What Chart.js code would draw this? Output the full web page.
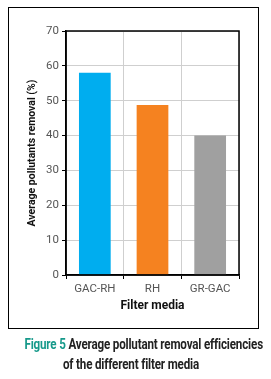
<!DOCTYPE html>
<html>
<head>
<meta charset="utf-8">
<script src="https://cdn.jsdelivr.net/npm/chart.js@4.4.1/dist/chart.umd.min.js"></script>
<style>
  html, body { margin: 0; padding: 0; background: #fff; }
  body { width: 271px; height: 379px; position: relative; overflow: hidden; }
  #frame {
    position: absolute; left: 8px; top: 7px;
    width: 249px; height: 320px;
    border: 1.5px solid #000;
  }
  #grafico { position: absolute; left: 0; top: 0; }
  #legenda {
    position: absolute; left: 0; top: 334px; width: 262px;
    text-align: center; white-space: nowrap;
    font-family: "Roboto", sans-serif;
    font-weight: bold; font-size: 14px; line-height: 20px; color: #222;
  }
  #legenda .linha { display: inline-block; transform: scaleX(0.83); transform-origin: center; letter-spacing: -0.2px; }
  #legenda .fig { color: #16998a; }
</style>
</head>
<body>
<div id="frame"></div>
<canvas id="grafico" width="271" height="335"></canvas>
<div id="legenda">
  <span class="linha"><span class="fig">Figure 5</span> Average pollutant removal efficiencies</span><br>
  <span class="linha">of the different filter media</span>
</div>

<script>
// dados
const categorias = ['GAC-RH', 'RH', 'GR-GAC'];
const remocao = [58.0, 48.8, 40.0];
const cores = ['#00adef', '#f58220', '#a0a0a0'];
const ticksY = [0, 10, 20, 30, 40, 50, 60, 70];

const fonteBase = 'Roboto, sans-serif';

// moldura preta em volta da área do gráfico
const molduraPlugin = {
    id: 'moldura',
    afterDraw(chart) {
        const { ctx, chartArea: a } = chart;
        ctx.save();
        ctx.strokeStyle = '#000';
        ctx.lineWidth = 1.5;
        ctx.strokeRect(a.left, a.top, a.right - a.left, a.bottom - a.top);
        ctx.restore();
    }
};

new Chart(document.getElementById('grafico').getContext('2d'), {
    type: 'bar',
    data: {
        labels: categorias,
        datasets: [{
            data: remocao,
            backgroundColor: cores,
            borderWidth: 0,
            barPercentage: 0.55,
            categoryPercentage: 1.0
        }]
    },
    options: {
        responsive: false,
        animation: false,
        layout: { padding: { left: 20, top: 31, right: 32, bottom: 22 } },
        plugins: { legend: { display: false }, tooltip: { enabled: false } },
        scales: {
            x: {
                offset: true,
                grid: { offset: true, color: '#cfcfcf', lineWidth: 1, tickColor: '#000', tickLength: 4 },
                border: { color: '#000', width: 1.5 },
                ticks: { color: '#555', padding: 3, font: { family: fonteBase, size: 11.5 } },
                title: {
                    display: true, text: 'Filter media', color: '#111',
                    font: { family: fonteBase, size: 12, weight: 'bold' },
                    padding: { top: 0, bottom: 0 }
                },
                afterFit(scale) { scale.height = 38; }
            },
            y: {
                min: 0, max: 70,
                afterBuildTicks(scale) { scale.ticks = ticksY.map(v => ({ value: v })); },
                grid: { color: '#cfcfcf', lineWidth: 1, tickColor: '#000', tickLength: 4 },
                border: { color: '#000', width: 1.5 },
                ticks: { color: '#555', padding: 3, font: { family: fonteBase, size: 11.5 } },
                title: {
                    display: true, text: 'Average pollutants removal (%)', color: '#111',
                    font: { family: fonteBase, size: 10.5, weight: 'bold' },
                    padding: { top: 6, bottom: 0 }
                },
                afterFit(scale) { scale.width = 46; }
            }
        }
    },
    plugins: [molduraPlugin]
});
</script>
</body>
</html>
